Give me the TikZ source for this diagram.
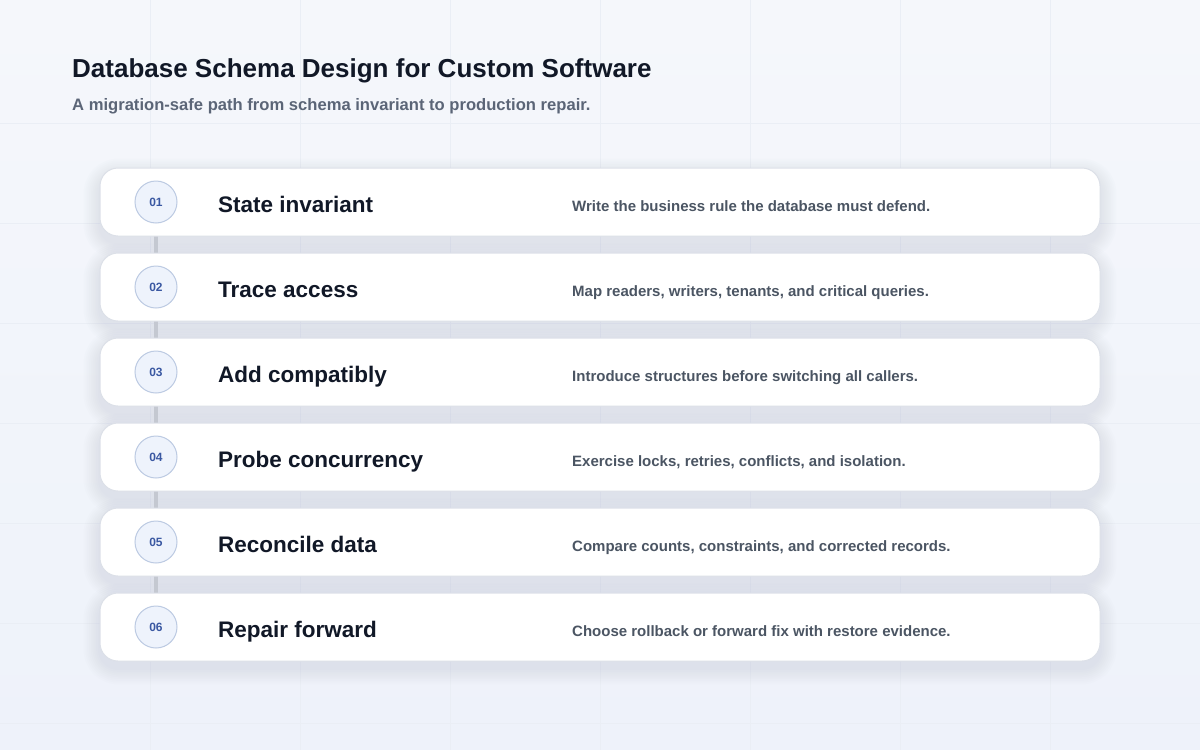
\documentclass[tikz,border=0pt]{standalone}
\usepackage{fontspec}
\setmainfont{Liberation Sans}
\pgfdeclarelayer{shadowlayer}
\pgfdeclarelayer{linklayer}
\pgfsetlayers{shadowlayer,linklayer,main}
\definecolor{bgtop}{HTML}{F5F7FB}
\definecolor{bgbot}{HTML}{EEF2FA}
\definecolor{gridc}{HTML}{EAEEF5}
\definecolor{titlec}{HTML}{111827}
\definecolor{subc}{HTML}{5B6577}
\definecolor{descc}{HTML}{4B5563}
\definecolor{cardline}{HTML}{DCE0E8}
\definecolor{numfill}{HTML}{EEF3FC}
\definecolor{numline}{HTML}{BCCAE2}
\definecolor{numtext}{HTML}{3A58A2}
\definecolor{linkc}{HTML}{C4C8D1}
\definecolor{shadowc}{HTML}{A9B3CA}
\tikzset{
  card/.style={draw=cardline, line width=1pt, fill=white, rounded corners=18pt,
    minimum width=1000pt, minimum height=68pt, inner sep=0pt},
  numc/.style={circle, draw=numline, line width=1pt, fill=numfill, minimum size=42pt,
    inner sep=0pt, text=numtext, font=\bfseries\fontsize{12}{14}\selectfont},
  steptitle/.style={anchor=base west, inner sep=0pt, text=titlec,
    font=\bfseries\fontsize{22.5}{26}\selectfont},
  stepdesc/.style={anchor=base west, inner sep=0pt, text=descc,
    font=\bfseries\fontsize{15}{18}\selectfont},
  linkbar/.style={draw=linkc, line width=4pt},
}
\begin{document}
\begin{tikzpicture}[x=1pt,y=-1pt]
\useasboundingbox (0,0) rectangle (1200,750);
\begin{pgfonlayer}{shadowlayer}
  \shade[top color=bgtop, bottom color=bgbot] (0,0) rectangle (1200,750);
  \foreach \gx in {150,300,...,1050} \draw[gridc, line width=0.8pt] (\gx,0) -- (\gx,750);
  \foreach \gy in {123,223,...,723} \draw[gridc, line width=0.8pt] (0,\gy) -- (1200,\gy);
  \foreach \cy in {202,287,372,457,542,627} {
    \foreach \s in {1,...,9} {
      \fill[shadowc, opacity=0.028, rounded corners=18pt+\s*1.8pt]
        (100-\s*1.8, \cy-34+7-\s*1.8) rectangle (1100+\s*1.8, \cy+34+7+\s*1.8);
    }
  }
\end{pgfonlayer}
\node[anchor=base west, inner sep=0pt, text=titlec, font=\bfseries\fontsize{26}{30}\selectfont]
  (title) at (72,77) {Database Schema Design for Custom Software};
\node[anchor=base west, inner sep=0pt, text=subc, font=\bfseries\fontsize{16.6}{19}\selectfont]
  (subtitle) at (72,110) {A migration-safe path from schema invariant to production repair.};
\foreach \i/\cy/\t/\d in {
  1/202/{State invariant}/{Write the business rule the database must defend.},
  2/287/{Trace access}/{Map readers, writers, tenants, and critical queries.},
  3/372/{Add compatibly}/{Introduce structures before switching all callers.},
  4/457/{Probe concurrency}/{Exercise locks, retries, conflicts, and isolation.},
  5/542/{Reconcile data}/{Compare counts, constraints, and corrected records.},
  6/627/{Repair forward}/{Choose rollback or forward fix with restore evidence.}} {
  \node[card] (card\i) at (600,\cy) {};
  \node[numc] (num\i) at (156,\cy) {0\i};
  \node[steptitle] (title\i) at (218,\cy+10.5) {\t};
  \node[stepdesc] (desc\i) at (572,\cy+9.5) {\d};
}
\begin{pgfonlayer}{linklayer}
  \foreach \i in {1,...,5} {
    \pgfmathtruncatemacro{\j}{\i+1}
    \draw[linkbar] (num\i.south) -- (num\j.north);
  }
\end{pgfonlayer}
\end{tikzpicture}
\end{document}
